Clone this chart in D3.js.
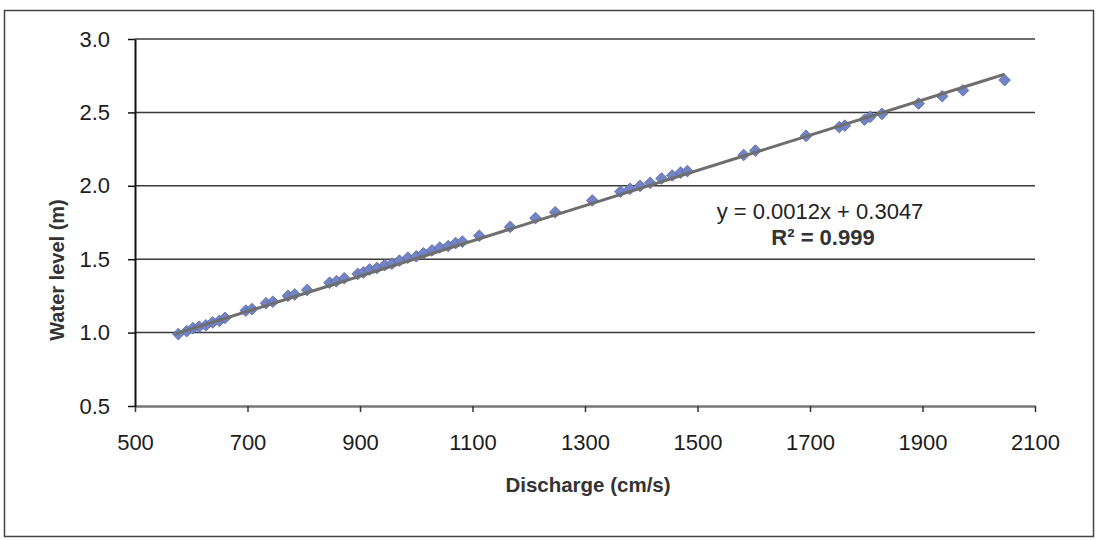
<!DOCTYPE html>
<html>
<head>
<meta charset="utf-8">
<script src="https://cdn.jsdelivr.net/npm/d3@7"></script>
<style>
  body { margin: 0; background: #fff; }
  text { font-family: "Liberation Sans", Arial, sans-serif; }
</style>
</head>
<body>
<svg></svg>
<script>
//Data
var discharge = [577, 592, 603, 614, 626, 638, 650, 660, 697, 708, 733, 745, 772, 784, 806,
                 846, 858, 872, 896, 906, 917, 930, 944, 957, 970, 985, 1000, 1013, 1028, 1042,
                 1057, 1070, 1082, 1112, 1167, 1212, 1247, 1313, 1363, 1380, 1398, 1416, 1436,
                 1455, 1470, 1482, 1582, 1603, 1693, 1752, 1762, 1797, 1807, 1828, 1893, 1935,
                 1972, 2046];
var waterLevel = [0.99, 1.01, 1.03, 1.04, 1.05, 1.07, 1.08, 1.10, 1.15, 1.16, 1.20, 1.21, 1.25, 1.26, 1.29,
                  1.34, 1.35, 1.37, 1.40, 1.41, 1.43, 1.44, 1.46, 1.47, 1.49, 1.51, 1.52, 1.54, 1.56, 1.58,
                  1.59, 1.61, 1.62, 1.66, 1.72, 1.78, 1.82, 1.90, 1.96, 1.98, 2.00, 2.02, 2.05,
                  2.07, 2.09, 2.10, 2.21, 2.24, 2.34, 2.40, 2.41, 2.45, 2.47, 2.49, 2.56, 2.61,
                  2.65, 2.72];
var xTicks = [500, 700, 900, 1100, 1300, 1500, 1700, 1900, 2100];
var yTicks = [0.5, 1.0, 1.5, 2.0, 2.5, 3.0];
var slope = 0.0012;
var intercept = 0.3047;
var equationText = "y = 0.0012x + 0.3047";
var r2Text = "R\u00b2 = 0.999";

//Set Dimensions of svg
var width = 1098;
var height = 540;
var margin = {left: 135, right: 63, top: 39, bottom: 134};
var svg = d3.select('svg')
            .attr('width', width)
            .attr('height', height);

var points = discharge.map(function(q, i) { return {q: q, h: waterLevel[i]}; });

//Scales
var x = d3.scaleLinear().domain([500, 2100]).range([margin.left, width - margin.right]);
var y = d3.scaleLinear().domain([0.5, 3.0]).range([height - margin.bottom, margin.top]);

//Outer frame
svg.append('rect')
   .attr('x', 4.5).attr('y', 10.5)
   .attr('width', 1089).attr('height', 526)
   .attr('fill', 'none')
   .attr('stroke', '#444')
   .attr('stroke-width', 1.5);

//Gridlines
svg.append('g')
   .selectAll('line')
   .data(yTicks.slice(1))
   .enter()
   .append('line')
   .attr('x1', x(500)).attr('x2', x(2100))
   .attr('y1', d => y(d)).attr('y2', d => y(d))
   .attr('stroke', '#3a3a3a')
   .attr('stroke-width', 1.5);

//X axis
var xAxis = svg.append('g')
   .attr('transform', 'translate(0,' + y(0.5) + ')')
   .call(d3.axisBottom(x).tickValues(xTicks).tickFormat(d3.format('d')).tickSize(6).tickPadding(22).tickSizeOuter(0));
xAxis.select('.domain').attr('stroke', '#777').attr('stroke-width', 2.5);
xAxis.selectAll('.tick line').attr('stroke', '#333').attr('stroke-width', 1.5);
xAxis.selectAll('text').attr('font-size', 22).attr('fill', '#1c1c1c')
     .attr('font-family', '"Liberation Sans", Arial, sans-serif');

//Y axis
var yAxis = svg.append('g')
   .attr('transform', 'translate(' + x(500) + ',0)')
   .call(d3.axisLeft(y).tickValues(yTicks).tickFormat(d3.format('.1f')).tickSize(7).tickPadding(18).tickSizeOuter(0));
yAxis.select('.domain').attr('stroke', '#111').attr('stroke-width', 2);
yAxis.selectAll('.tick line').attr('stroke', '#111').attr('stroke-width', 1.5);
yAxis.selectAll('text').attr('font-size', 22).attr('fill', '#1c1c1c')
     .attr('font-family', '"Liberation Sans", Arial, sans-serif');

//Data points as diamonds
svg.append('g')
   .selectAll('path')
   .data(points)
   .enter()
   .append('path')
   .attr('d', d3.symbol().type(d3.symbolSquare).size(68))
   .attr('transform', d => 'translate(' + x(d.q) + ',' + y(d.h) + ') rotate(45)')
   .attr('fill', '#7383c6')
   .attr('stroke', '#5868ad')
   .attr('stroke-width', 0.8);

//Linear trendline
var ext = d3.extent(discharge);
svg.append('line')
   .attr('x1', x(ext[0] - 6)).attr('y1', y(slope * (ext[0] - 6) + intercept))
   .attr('x2', x(ext[1])).attr('y2', y(slope * ext[1] + intercept))
   .attr('stroke', '#6e6e6e')
   .attr('stroke-width', 3);

//Equation labels
svg.append('text')
   .attr('x', 820).attr('y', 219)
   .attr('text-anchor', 'middle')
   .attr('font-size', 22)
   .attr('fill', '#222')
   .text(equationText);
svg.append('text')
   .attr('x', 823).attr('y', 245)
   .attr('text-anchor', 'middle')
   .attr('font-size', 22)
   .attr('font-weight', 'bold')
   .attr('fill', '#333')
   .text(r2Text);

//Axis titles
svg.append('text')
   .attr('x', 588).attr('y', 492)
   .attr('text-anchor', 'middle')
   .attr('font-size', 20.5)
   .attr('font-weight', 'bold')
   .attr('fill', '#333')
   .text('Discharge (cm/s)');
svg.append('text')
   .attr('transform', 'translate(64,270) rotate(-90)')
   .attr('text-anchor', 'middle')
   .attr('font-size', 20)
   .attr('font-weight', 'bold')
   .attr('fill', '#333')
   .text('Water level (m)');
</script>
</body>
</html>
